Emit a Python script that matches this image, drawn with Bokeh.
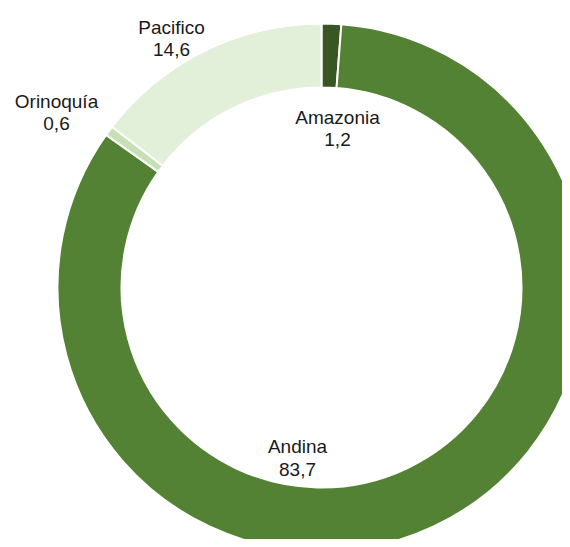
import numpy as np
from bokeh.plotting import figure
from bokeh.models import ColumnDataSource
from bokeh.core.properties import value
from bokeh.embed import file_html
from bokeh.resources import INLINE

# Data
regions = ["Amazonia", "Andina", "Orinoquía", "Pacifico"]
shares = [1.2, 83.7, 0.6, 14.6]
colors = ["#385723", "#548235", "#c5e0b4", "#e2f0d9"]

# Layout (pixel coordinates of label baselines, from top-left)
label_x = [337, 297, 56, 171]
label_y1 = [117, 446, 101, 27]
label_y2 = [139, 469, 123, 49]

W, H = 562, 539
cx_img, cy_img = 321, 287
R_OUT, R_IN = 264, 200

def tx(x):
    return x

def ty(y):
    return H - y

vals = np.array(shares, dtype=float)
frac = vals / vals.sum()
cum = np.concatenate([[0.0], np.cumsum(frac)])
start = np.pi / 2 - 2 * np.pi * cum[:-1]
end = np.pi / 2 - 2 * np.pi * cum[1:]

src = ColumnDataSource(dict(
    start=start, end=end, color=colors, region=regions,
))

p = figure(width=W, height=H, x_range=(0, W), y_range=(0, H),
           output_backend="svg", toolbar_location=None, min_border=0)
p.axis.visible = False
p.grid.visible = False
p.outline_line_color = None
p.background_fill_color = "white"

p.annular_wedge(x=tx(cx_img), y=ty(cy_img), inner_radius=R_IN, outer_radius=R_OUT,
                start_angle="start", end_angle="end", direction="clock",
                fill_color="color", line_color="white", line_width=2, source=src)

lab = ColumnDataSource(dict(
    x=[tx(v) for v in label_x],
    y1=[ty(v) for v in label_y1],
    y2=[ty(v) for v in label_y2],
    name=regions,
    val=[f"{v:.1f}".replace(".", ",") for v in shares],
))
for ycol, tcol in (("y1", "name"), ("y2", "val")):
    p.text(x="x", y=ycol, text=tcol, source=lab, text_align="center",
           text_baseline="alphabetic", text_font=value("Liberation Sans"),
           text_font_size="19px", text_color="#1a1a1a")

open("out.html", "w").write(file_html(p, INLINE))
